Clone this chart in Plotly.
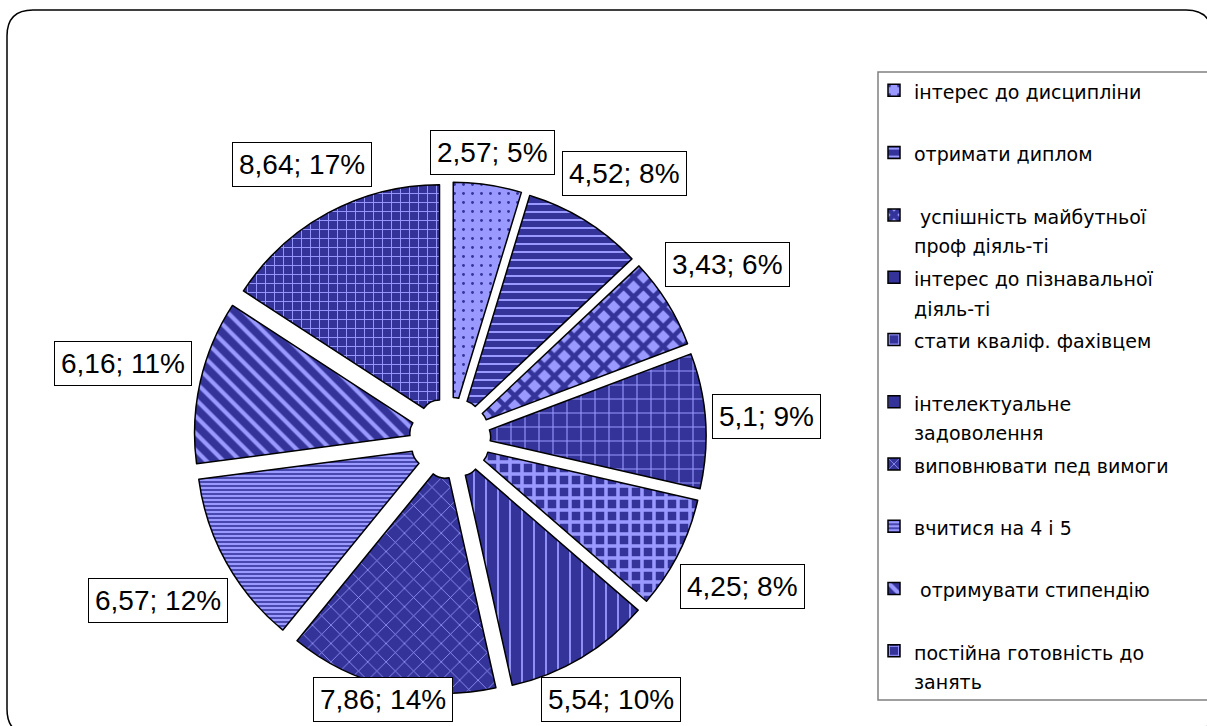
import math
import plotly.graph_objects as go

# ---------------- data ----------------
categories = [
    "інтерес до дисципліни",
    "отримати диплом",
    " успішність майбутньої\nпроф діяль-ті",
    "інтерес до пізнавальної\nдіяль-ті",
    "стати кваліф. фахівцем",
    "інтелектуальне\nзадоволення",
    "виповнювати пед вимоги",
    "вчитися на 4 і 5",
    " отримувати стипендію",
    "постійна готовність до\nзанять",
]
values = [2.57, 4.52, 3.43, 5.1, 4.25, 5.54, 7.86, 6.57, 6.16, 8.64]
percents = [5, 8, 6, 9, 8, 10, 14, 12, 11, 17]

# ---------------- styles ----------------
LIGHT = "#9999FF"
DARK = "#333399"
pattern_shapes = [".", "-", "x", "+", "+", "|", "x", "-", "\\", "+"]
pattern_bg = [LIGHT, DARK, LIGHT, DARK, DARK, DARK, DARK, LIGHT, DARK, DARK]
pattern_fg = [DARK, LIGHT, DARK, LIGHT, LIGHT, LIGHT, LIGHT, DARK, LIGHT, LIGHT]
pattern_size = [9, 8, 14, 14, 12, 12, 13, 4, 12, 9]
pattern_solid = [0.08, 0.25, 0.55, 0.15, 0.5, 0.15, 0.12, 0.4, 0.35, 0.2]

W, H = 1207, 726
FONT = "Liberation Sans, Arial, sans-serif"
LEG_FONT = "DejaVu Sans, Liberation Sans, sans-serif"
PULL = 0.094
HOLE = 0.08

# pie geometry in pixels
CX, CY = 450, 438
R_TOTAL = 256  # radius including pull
dom_x = [(CX - R_TOTAL) / W, (CX + R_TOTAL) / W]
dom_y = [1 - (CY + R_TOTAL) / H, 1 - (CY - R_TOTAL) / H]

# legend names (two lines each, so entries are evenly spaced)
def legend_name(cat):
    lines = cat.split("\n")
    if len(lines) == 1:
        lines.append("\u00a0")
    return "<br>".join(f"<span style='font-size:19px'>{ln}</span>" for ln in lines)

legend_names = [legend_name(c) for c in categories]

fig = go.Figure()
fig.add_trace(go.Pie(
    labels=legend_names,
    values=values,
    sort=False,
    direction="clockwise",
    rotation=0,
    pull=[PULL] * len(values),
    hole=HOLE,
    textinfo="none",
    marker=dict(
        colors=pattern_bg,
        line=dict(color="black", width=1.5),
        pattern=dict(
            shape=pattern_shapes,
            bgcolor=pattern_bg,
            fgcolor=pattern_fg,
            size=pattern_size,
            solidity=pattern_solid,
        ),
    ),
    domain=dict(x=dom_x, y=dom_y),
))

# ---------------- data labels (boxed) ----------------
ARIAL_W = {c: 0.556 for c in "0123456789"}
ARIAL_W.update({",": 0.278, ";": 0.278, " ": 0.278, "%": 0.889})
LAB_SIZE = 28
PAD = 6
BOX_H = 46
R_LAB = 262


def fmt(v):
    return f"{v:g}".replace(".", ",")


def text_w(t):
    return sum(ARIAL_W.get(ch, 0.556) for ch in t) * LAB_SIZE


total = sum(values)
cum = 0.0
placed = []
annotations = []
for v, p in zip(values, percents):
    ang = (cum + v / 2) / total * 2 * math.pi
    cum += v
    s, c = math.sin(ang), math.cos(ang)
    txt = f"{fmt(v)}; {p}%"
    hw = text_w(txt) / 2 + PAD + 1
    hh = BOX_H / 2
    lo, hi = 0.0, 700.0
    for _ in range(60):
        m = (lo + hi) / 2
        dx = max(abs(m * s) - hw, 0)
        dy = max(abs(m * c) - hh, 0)
        if math.hypot(dx, dy) < R_LAB:
            lo = m
        else:
            hi = m
    px = CX + hi * s
    py = CY - hi * c
    py = min(max(py, hh + 4), H - hh - 4)
    for qx, qy, qhw in placed:
        if abs(px - qx) < hw + qhw + 4 and abs(py - qy) < 2 * hh + 2:
            direction = 1 if px >= qx else -1
            px += direction * (hw + qhw + 8 - abs(px - qx))
    placed.append((px, py, hw))
    annotations.append(dict(
        x=px / W, y=1 - py / H, xref="paper", yref="paper",
        text=txt, showarrow=False, xanchor="center", yanchor="middle",
        font=dict(family=FONT, size=LAB_SIZE, color="black"),
        bgcolor="white", bordercolor="black", borderwidth=1, borderpad=PAD,
    ))

# ---------------- frame + legend box ----------------
def P(x, y):
    return f"{x / W:.5f},{1 - y / H:.5f}"

L, T, RR, B, RAD = 7, 10, 1212, 735, 26
frame_path = (
    f"M{P(L + RAD, T)} L{P(RR - RAD, T)} Q{P(RR, T)} {P(RR, T + RAD)} "
    f"L{P(RR, B - RAD)} Q{P(RR, B)} {P(RR - RAD, B)} L{P(L + RAD, B)} "
    f"Q{P(L, B)} {P(L, B - RAD)} L{P(L, T + RAD)} Q{P(L, T)} {P(L + RAD, T)} Z"
)
shapes = [
    dict(type="path", xref="paper", yref="paper", path=frame_path,
         line=dict(color="black", width=1.5), fillcolor="rgba(0,0,0,0)"),
    dict(type="rect", xref="paper", yref="paper",
         x0=878 / W, x1=1230 / W, y0=1 - 700 / H, y1=1 - 72 / H,
         line=dict(color="#808080", width=1.5), fillcolor="rgba(0,0,0,0)"),
]

fig.update_layout(
    width=W, height=H,
    margin=dict(l=0, r=0, t=0, b=0),
    paper_bgcolor="white",
    plot_bgcolor="white",
    showlegend=True,
    legend=dict(
        x=874 / W, y=1 - 69 / H, xanchor="left", yanchor="top",
        font=dict(family=LEG_FONT, size=22.8, color="black"),
        bgcolor="rgba(0,0,0,0)", borderwidth=0, valign="top",
    ),
    annotations=annotations,
    shapes=shapes,
    font=dict(family=FONT),
)

fig.write_html(
    "out.html",
    config={"displayModeBar": False},
    post_script="document.body.style.margin='0';document.body.style.overflow='hidden';",
)
